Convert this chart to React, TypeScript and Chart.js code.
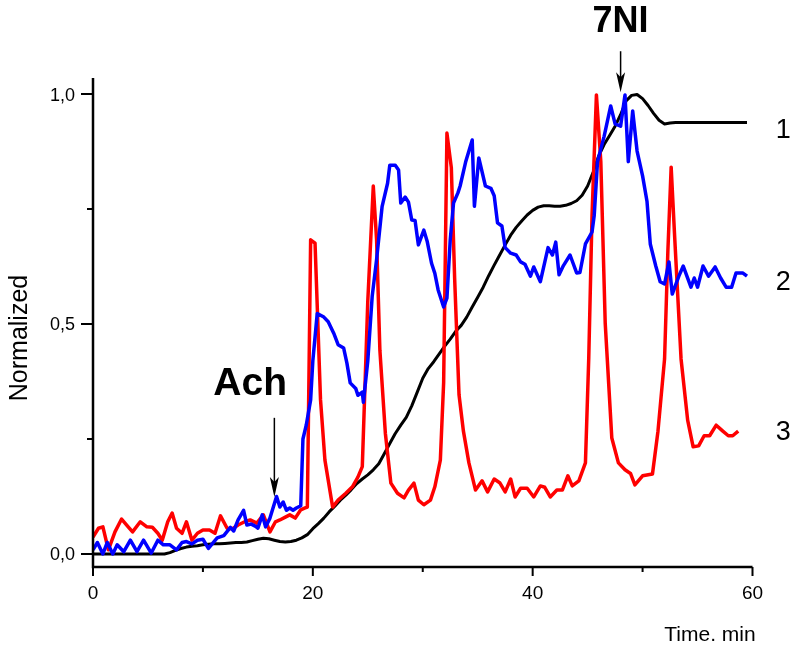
import React, { useEffect, useRef } from "react";
import { Chart, registerables } from "chart.js";

Chart.register(...registerables);

// ---- Data ----
// Curve 1 (black)
const blackTime = [
  0, 0.5, 1, 1.5, 2, 2.5, 3, 3.5, 4, 4.5, 5, 5.5, 6, 6.5, 7, 7.5, 8, 8.5, 9, 9.5,
  10, 10.5, 11, 11.5, 12, 12.5, 13, 13.5, 14, 14.5, 15, 15.5, 16, 16.5, 17, 17.5, 18, 18.5, 19, 19.5,
  20, 20.5, 21, 21.5, 22, 22.5, 23, 23.5, 24, 24.5, 25, 25.5, 26, 26.5, 27, 27.5, 28, 28.5, 29, 29.5,
  30, 30.5, 31, 31.5, 32, 32.5, 33, 33.5, 34, 34.5, 35, 35.5, 36, 36.5, 37, 37.5, 38, 38.5, 39, 39.5,
  40, 40.5, 41, 41.5, 42, 42.5, 43, 43.5, 44, 44.5, 45, 45.5, 46, 46.5, 47, 47.5, 48, 48.5, 49, 49.5,
  50, 50.5, 51, 51.5, 52, 52.5, 53, 53.5, 54, 54.5, 55, 55.5, 56, 56.5, 57, 57.5, 58, 58.5, 59, 59.5,
];
const blackValue = [
  0, 0, 0, 0, 0, 0, 0, 0, 0, 0, 0, 0, 0, 0, 0.003, 0.008, 0.012, 0.015, 0.017, 0.018,
  0.02, 0.021, 0.022, 0.022, 0.023, 0.024, 0.025, 0.025, 0.026, 0.029, 0.032, 0.034, 0.033, 0.03, 0.027, 0.026, 0.027, 0.03, 0.035, 0.042,
  0.055, 0.066, 0.078, 0.092, 0.104, 0.117, 0.128, 0.14, 0.153, 0.163, 0.172, 0.183, 0.196, 0.218, 0.24, 0.262, 0.28, 0.297, 0.322, 0.352,
  0.382, 0.403, 0.418, 0.435, 0.452, 0.467, 0.484, 0.497, 0.515, 0.537, 0.558, 0.58, 0.605, 0.628, 0.65, 0.672, 0.693, 0.71, 0.724, 0.737,
  0.747, 0.754, 0.757, 0.757, 0.756, 0.756, 0.758, 0.762, 0.768, 0.78, 0.8, 0.83, 0.865, 0.89, 0.91, 0.93, 0.955, 0.985, 0.997, 0.999,
  0.99, 0.975, 0.958, 0.943, 0.935, 0.937, 0.938, 0.938, 0.938, 0.938, 0.938, 0.938, 0.938, 0.938, 0.938, 0.938, 0.938, 0.938, 0.938, 0.938,
];

// Curve 2 (blue)
const blueTime = [
  0, 0.4, 0.9, 1.3, 1.8, 2.2, 2.8, 3.4, 4.0, 4.6, 5.3, 5.9, 6.4, 7.0, 7.6, 8.1, 8.5, 9.0, 9.5, 10.0,
  10.5, 11.3, 11.9, 12.5, 12.8, 13.2, 13.7, 14.0, 14.4, 14.8, 15.0, 15.4, 15.7, 16.1, 16.7, 17.0, 17.3, 17.6, 17.9, 18.2,
  18.5, 18.9, 19.1, 19.4, 19.8, 20.0, 20.4, 21.0, 21.4, 21.9, 22.3, 22.8, 23.1, 23.4, 23.9, 24.1, 24.5, 24.6, 25.0, 25.4,
  25.8, 26.3, 26.8, 27.0, 27.5, 27.8, 28.0, 28.4, 28.7, 29.0, 29.3, 29.6, 30.1, 30.4, 30.8, 31.1, 31.4, 31.9, 32.2, 32.5,
  32.8, 33.2, 33.4, 33.9, 34.5, 34.7, 35.1, 35.7, 36.2, 36.5, 36.8, 37.2, 37.5, 38.0, 38.5, 38.9, 39.3, 39.8, 40.1, 40.7,
  41.4, 41.8, 42.1, 42.4, 42.8, 43.4, 44.0, 44.3, 44.8, 45.4, 45.6, 45.9, 46.5, 47.1, 47.5, 48.0, 48.4, 48.7, 49.1, 49.5,
  50.0, 50.4, 50.7, 51.2, 51.6, 52.0, 52.4, 52.7, 53.3, 53.7, 54.4, 54.7, 55.0, 55.5, 56.0, 56.6, 57.1, 57.6, 58.1, 58.5,
  59.1, 59.5,
];
const blueValue = [
  0.009, 0.025, 0.0, 0.025, 0.0, 0.02, 0.005, 0.03, 0.005, 0.03, 0.002, 0.03, 0.02, 0.02, 0.009, 0.025, 0.027, 0.022, 0.03, 0.032,
  0.012, 0.035, 0.04, 0.058, 0.05, 0.074, 0.095, 0.063, 0.065, 0.06, 0.056, 0.085, 0.059, 0.078, 0.125, 0.102, 0.113, 0.095, 0.1, 0.095,
  0.1, 0.105, 0.25, 0.28, 0.335, 0.42, 0.523, 0.515, 0.505, 0.48, 0.455, 0.448, 0.415, 0.372, 0.36, 0.345, 0.352, 0.33, 0.42, 0.56,
  0.64, 0.755, 0.806, 0.845, 0.845, 0.835, 0.763, 0.776, 0.765, 0.726, 0.725, 0.672, 0.704, 0.68, 0.632, 0.61, 0.574, 0.537, 0.556, 0.683,
  0.763, 0.785, 0.8, 0.852, 0.9, 0.756, 0.861, 0.8, 0.795, 0.779, 0.72, 0.713, 0.666, 0.654, 0.65, 0.635, 0.63, 0.604, 0.624, 0.592,
  0.666, 0.65, 0.678, 0.607, 0.627, 0.65, 0.611, 0.612, 0.674, 0.7, 0.736, 0.853, 0.908, 0.974, 0.935, 0.93, 0.998, 0.853, 0.963, 0.876,
  0.822, 0.767, 0.674, 0.626, 0.592, 0.587, 0.635, 0.565, 0.604, 0.626, 0.58, 0.6, 0.58, 0.626, 0.604, 0.624, 0.6, 0.58, 0.58, 0.611,
  0.611, 0.604,
];

// Curve 3 (red)
const redTime = [
  0, 0.5, 0.9, 1.4, 2.0, 2.6, 3.2, 3.6, 4.3, 4.9, 5.4, 5.9, 6.3, 6.8, 7.2, 7.6, 8.1, 8.5, 9.0, 9.5,
  10.0, 10.6, 11.1, 11.6, 12.2, 12.7, 13.2, 13.8, 14.3, 14.9, 15.5, 16.1, 16.6, 17.0, 17.5, 17.9, 18.4, 18.9, 19.3, 19.5,
  19.8, 20.2, 20.7, 21.1, 21.8, 22.3, 23.0, 23.6, 24.1, 24.5, 25.0, 25.5, 25.8, 26.1, 26.6, 27.1, 27.7, 28.3, 28.7, 29.2,
  29.6, 30.1, 30.7, 31.1, 31.6, 31.9, 32.2, 32.6, 32.9, 33.3, 33.7, 34.2, 34.8, 35.4, 35.9, 36.5, 37.0, 37.5, 38.0, 38.4,
  38.9, 39.5, 40.1, 40.7, 41.1, 41.6, 42.2, 42.7, 43.2, 43.6, 44.2, 44.8, 45.1, 45.4, 45.8, 46.2, 46.6, 47.2, 47.8, 48.4,
  48.9, 49.3, 50.0, 50.9, 51.4, 52.0, 52.3, 52.6, 52.9, 53.5, 54.1, 54.6, 55.1, 55.6, 56.1, 56.7, 57.3, 57.8, 58.2, 58.7,
];
const redValue = [
  0.037, 0.056, 0.059, 0.009, 0.048, 0.076, 0.059, 0.048, 0.07, 0.059, 0.058, 0.045, 0.03, 0.07, 0.089, 0.056, 0.045, 0.07, 0.03, 0.045,
  0.052, 0.052, 0.045, 0.083, 0.056, 0.055, 0.063, 0.07, 0.074, 0.067, 0.085, 0.048, 0.07, 0.074, 0.08, 0.085, 0.078, 0.096, 0.1, 0.102,
  0.683, 0.676, 0.335, 0.204, 0.102, 0.117, 0.132, 0.146, 0.167, 0.19, 0.55, 0.8, 0.683, 0.443, 0.262, 0.154, 0.132, 0.122, 0.139, 0.154,
  0.117, 0.107, 0.117, 0.146, 0.204, 0.372, 0.915, 0.84, 0.6, 0.346, 0.267, 0.198, 0.139, 0.159, 0.135, 0.163, 0.155, 0.135, 0.163, 0.124,
  0.143, 0.143, 0.124, 0.148, 0.145, 0.124, 0.139, 0.139, 0.17, 0.148, 0.159, 0.198, 0.424, 0.736, 0.998, 0.853, 0.502, 0.252, 0.198, 0.183,
  0.175, 0.15, 0.17, 0.174, 0.267, 0.424, 0.658, 0.841, 0.698, 0.424, 0.291, 0.233, 0.235, 0.257, 0.257, 0.28, 0.267, 0.257, 0.257, 0.267,
];

// Axis ticks
const xMajorTicks = [0, 20, 40, 60];
const xMinorTicks = [10, 30, 50];
const xTickLabels = ["0", "20", "40", "60"];
const yMajorTicks = [0, 0.5, 1.0];
const yMinorTicks = [0.25, 0.75];
const yTickLabels = ["0,0", "0,5", "1,0"];

const xTitle = "Time. min";
const yTitle = "Normalized";
const curveLabels = ["1", "2", "3"];

const FONT = '"Liberation Sans", Arial, Helvetica, sans-serif';

const toPoints = (t: number[], v: number[]) => t.map((x, i) => ({ x, y: v[i] }));

const axesPlugin = {
  id: "originAxes",
  afterDraw(chart: any) {
    const { ctx, chartArea } = chart;
    const xs = chart.scales.x;
    const ys = chart.scales.y;
    const left = chartArea.left;
    const bottom = chartArea.bottom;
    ctx.save();
    ctx.strokeStyle = "#000";
    ctx.fillStyle = "#000";
    ctx.lineCap = "butt";

    // axis lines
    ctx.lineWidth = 2.5;
    ctx.beginPath();
    ctx.moveTo(left, chartArea.top);
    ctx.lineTo(left, bottom + 1.25);
    ctx.moveTo(left - 1.25, bottom);
    ctx.lineTo(chartArea.right, bottom);
    ctx.stroke();

    // ticks
    ctx.lineWidth = 2;
    ctx.beginPath();
    xMajorTicks.forEach((v) => {
      const px = xs.getPixelForValue(v);
      ctx.moveTo(px, bottom);
      ctx.lineTo(px, bottom + 9);
    });
    xMinorTicks.forEach((v) => {
      const px = xs.getPixelForValue(v);
      ctx.moveTo(px, bottom);
      ctx.lineTo(px, bottom + 5);
    });
    yMajorTicks.forEach((v) => {
      const py = ys.getPixelForValue(v);
      ctx.moveTo(left, py);
      ctx.lineTo(left - 12, py);
    });
    yMinorTicks.forEach((v) => {
      const py = ys.getPixelForValue(v);
      ctx.moveTo(left, py);
      ctx.lineTo(left - 6, py);
    });
    ctx.stroke();

    // tick labels
    ctx.font = `19px ${FONT}`;
    ctx.textAlign = "center";
    ctx.textBaseline = "alphabetic";
    xMajorTicks.forEach((v, i) => {
      ctx.fillText(xTickLabels[i], xs.getPixelForValue(v), bottom + 32);
    });
    ctx.font = `18px ${FONT}`;
    ctx.textAlign = "right";
    yMajorTicks.forEach((v, i) => {
      ctx.fillText(yTickLabels[i], left - 18, ys.getPixelForValue(v) + 6.5);
    });

    // axis titles
    ctx.font = `21px ${FONT}`;
    ctx.textAlign = "center";
    ctx.fillText(xTitle, 710, 641);
    ctx.save();
    ctx.translate(27, 338);
    ctx.rotate(-Math.PI / 2);
    ctx.font = `25px ${FONT}`;
    ctx.textAlign = "center";
    ctx.fillText(yTitle, 0, 0);
    ctx.restore();

    // annotations
    const arrow = (t: number, vFrom: number, vTip: number) => {
      const px = xs.getPixelForValue(t);
      const y1 = ys.getPixelForValue(vFrom);
      const y2 = ys.getPixelForValue(vTip);
      ctx.lineWidth = 1.5;
      ctx.beginPath();
      ctx.moveTo(px, y1);
      ctx.lineTo(px, y2 - 14);
      ctx.stroke();
      ctx.beginPath();
      ctx.moveTo(px, y2);
      ctx.lineTo(px - 4.5, y2 - 20);
      ctx.lineTo(px, y2 - 15);
      ctx.lineTo(px + 4.5, y2 - 20);
      ctx.closePath();
      ctx.fill();
    };
    ctx.font = `bold 39px ${FONT}`;
    ctx.textAlign = "center";
    ctx.fillText("Ach", xs.getPixelForValue(14.3), ys.getPixelForValue(0.346));
    arrow(16.5, 0.296, 0.124);

    ctx.font = `bold 36px ${FONT}`;
    ctx.fillText("7NI", xs.getPixelForValue(48.0), ys.getPixelForValue(1.135));
    arrow(48.0, 1.093, 1.004);

    ctx.font = `27px ${FONT}`;
    const labelVals = [0.926, 0.596, 0.27];
    curveLabels.forEach((s, i) => {
      ctx.fillText(s, xs.getPixelForValue(62.8), ys.getPixelForValue(labelVals[i]) + 10);
    });

    ctx.restore();
  },
};

export default function App() {
  const ref = useRef<HTMLCanvasElement>(null);
  useEffect(() => {
    if (!ref.current) return;
    const chart = new Chart(ref.current, {
      type: "line",
      data: {
        datasets: [
          {
            label: "1",
            data: toPoints(blackTime, blackValue),
            borderColor: "#000000",
            borderWidth: 3,
            pointRadius: 0,
            tension: 0,
            order: 2,
            borderJoinStyle: "round",
          },
          {
            label: "3",
            data: toPoints(redTime, redValue),
            borderColor: "#ff0000",
            borderWidth: 3.5,
            pointRadius: 0,
            tension: 0,
            order: 1,
            borderJoinStyle: "round",
          },
          {
            label: "2",
            data: toPoints(blueTime, blueValue),
            borderColor: "#0000ff",
            borderWidth: 3.5,
            pointRadius: 0,
            tension: 0,
            order: 0,
            borderJoinStyle: "round",
          },
        ],
      },
      options: {
        animation: false,
        responsive: false,
        devicePixelRatio: 1,
        layout: { padding: { left: 93, right: 41.5, top: 78, bottom: 87 } },
        plugins: { legend: { display: false }, tooltip: { enabled: false } },
        scales: {
          x: { type: "linear", min: 0, max: 60, display: false },
          y: { type: "linear", min: -0.0283, max: 1.0348, display: false },
        },
      },
      plugins: [axesPlugin],
    } as any);
    return () => chart.destroy();
  }, []);

  return (
    <div style={{ position: "fixed", left: 0, top: 0, width: 794, height: 654, background: "#fff" }}>
      <canvas ref={ref} width={794} height={654} style={{ display: "block", width: 794, height: 654 }} />
    </div>
  );
}
